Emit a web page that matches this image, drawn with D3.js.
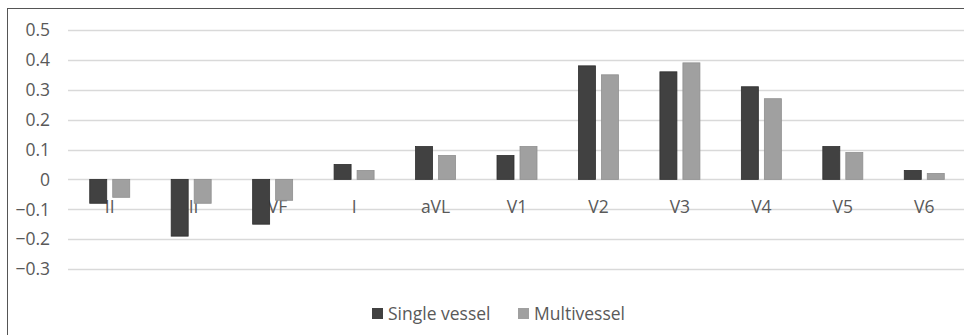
<!DOCTYPE html>
<html>
<head>
<meta charset="utf-8">
<script src="https://cdn.jsdelivr.net/npm/d3@7/dist/d3.min.js"></script>
<style>
  html, body { margin: 0; padding: 0; background: #fff; }
  svg { display: block; }
  text { font-family: "Open Sans", "Liberation Sans", sans-serif; fill: #595959; }
</style>
</head>
<body>
<svg id="chart" width="964" height="335"></svg>
<script>
// ECG leads and mean ST deviation per group
const leads = ["II", "III", "aVF", "I", "aVL", "V1", "V2", "V3", "V4", "V5", "V6"];
const singleVessel = [-0.08, -0.19, -0.15, 0.05, 0.11, 0.08, 0.38, 0.36, 0.31, 0.11, 0.03];
const multiVessel  = [-0.06, -0.08, -0.07, 0.03, 0.08, 0.11, 0.35, 0.39, 0.27, 0.09, 0.02];
const yTicks = [0.5, 0.4, 0.3, 0.2, 0.1, 0, -0.1, -0.2, -0.3];
const seriesNames = ["Single vessel", "Multivessel"];
const seriesColors = ["#414141", "#a0a0a0"];

const svg = d3.select("#chart");
const W = 964, H = 335;
const fontSize = 17.5;

// outer chart frame (runs off the right and bottom edges)
svg.append("rect")
  .attr("x", 7.5).attr("y", 8.5)
  .attr("width", W + 10).attr("height", H + 10)
  .attr("fill", "#fff").attr("stroke", "#555").attr("stroke-width", 1);

const x = d3.scaleBand().domain(leads).range([69, 965]).paddingInner(0).paddingOuter(0);
const y = d3.scaleLinear().domain([-0.3, 0.5]).range([269, 30]);

// horizontal gridlines
svg.append("g").selectAll("line").data(yTicks).join("line")
  .attr("x1", 68).attr("x2", W)
  .attr("y1", d => Math.round(y(d)) + 0.5).attr("y2", d => Math.round(y(d)) + 0.5)
  .attr("stroke", "#d9d9d9").attr("stroke-width", 1.5);

// y axis labels
svg.append("g").selectAll("text").data(yTicks).join("text")
  .attr("x", 50).attr("y", d => y(d))
  .attr("dy", "0.36em")
  .attr("text-anchor", "end")
  .attr("font-size", fontSize)
  .text(d => d === 0 ? "0" : d3.format(".1f")(d));

// category labels sit under the bars
svg.append("g").selectAll("text").data(leads).join("text")
  .attr("x", d => x(d) + x.bandwidth() / 2)
  .attr("y", y(-0.1) - 3)
  .attr("dy", "0.36em")
  .attr("text-anchor", "middle")
  .attr("font-size", fontSize)
  .text(d => d);

// grouped bars
const barW = 17, innerGap = 6;
const sub = d3.scaleOrdinal().domain([0, 1]).range([
  x.bandwidth() / 2 - innerGap / 2 - barW,
  x.bandwidth() / 2 + innerGap / 2
]);
[singleVessel, multiVessel].forEach((vals, si) => {
  svg.append("g").selectAll("rect").data(vals).join("rect")
    .attr("x", (d, i) => x(leads[i]) + sub(si))
    .attr("y", d => Math.min(y(d), y(0)))
    .attr("width", barW)
    .attr("height", d => Math.abs(y(d) - y(0)))
    .attr("fill", seriesColors[si])
    .attr("stroke", si === 0 ? "#2e2e2e" : "#8f8f8f")
    .attr("stroke-width", 0.8);
});

// legend
const legend = svg.append("g");
const legendItems = [{ name: seriesNames[0], x: 372 }, { name: seriesNames[1], x: 518 }];
legendItems.forEach((it, i) => {
  legend.append("rect")
    .attr("x", it.x).attr("y", 308).attr("width", 11).attr("height", 11)
    .attr("fill", seriesColors[i]);
  legend.append("text")
    .attr("x", it.x + 16).attr("y", 313.5).attr("dy", "0.36em")
    .attr("font-size", fontSize)
    .text(it.name);
});
</script>
</body>
</html>
